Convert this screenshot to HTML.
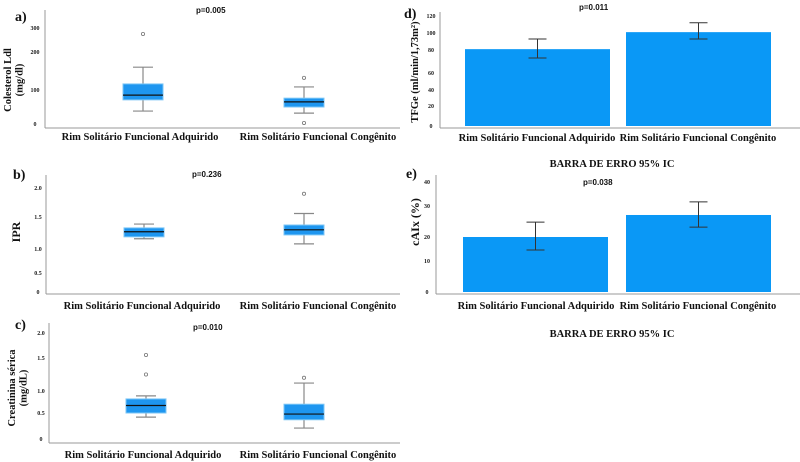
<!DOCTYPE html>
<html><head><meta charset="utf-8"><style>
body{margin:0;background:#fff;}
svg{display:block;font-family:"Liberation Serif",serif;}
.t{font-weight:bold;font-size:10.5px;fill:#111;}
.tk{font-weight:bold;font-size:6px;fill:#222;}
.p{font-family:"Liberation Sans",sans-serif;font-weight:bold;font-size:8px;fill:#111;}
.lt{font-weight:bold;font-size:14px;fill:#111;}
.yt{font-weight:bold;fill:#111;}
</style></head><body>
<svg id="root" width="800" height="462" viewBox="0 0 800 462"></svg>
<script>
const boxCategories=["Rim Solitário Funcional Adquirido","Rim Solitário Funcional Congênito"];
// panel a
const aTicks=[0,100,200,300];
const aBoxMin=[38,32],aBoxQ1=[71,50],aBoxMed=[85,65],aBoxQ3=[116,76],aBoxMax=[160,108];
const aOutliers=[[275],[132,3]];
// panel b
const bTicks=[0,0.5,1.0,1.5,2.0];
const bBoxMin=[1.16,1.08],bBoxQ1=[1.19,1.22],bBoxMed=[1.27,1.30],bBoxQ3=[1.33,1.375],bBoxMax=[1.39,1.56];
const bOutliers=[[],[1.9]];
// panel c
const cTicks=[0,0.5,1.0,1.5,2.0];
const cBoxMin=[0.42,0.21],cBoxQ1=[0.5,0.37],cBoxMed=[0.67,0.48],cBoxQ3=[0.82,0.70],cBoxMax=[0.89,1.12];
const cOutliers=[[1.56,1.25],[1.20]];
// panel d
const dTicks=[0,20,40,60,80,100,120];
const dMeans=[81,101],dLow=[73,93],dHigh=[93,112];
// panel e
const eTicks=[0,10,20,30,40];
const eMeans=[20,27.1],eLow=[14.6,23.2],eHigh=[24.8,31.7];

const NS="http://www.w3.org/2000/svg";
const root=document.getElementById('root');
function mk(tag,attrs,parent,text){const e=document.createElementNS(NS,tag);for(const k in attrs)e.setAttribute(k,attrs[k]);if(text!==undefined)e.textContent=text;(parent||root).appendChild(e);return e;}
function scale(ticks,pos){return v=>{for(let i=0;i<ticks.length-1;i++){if(v<=ticks[i+1]||i===ticks.length-2){const t=(v-ticks[i])/(ticks[i+1]-ticks[i]);return pos[i]+t*(pos[i+1]-pos[i]);}}};}

function axis(g,ticks,pos,ax,top,bottom,right,tickX){
  const ya=mk('line',{x1:ax,y1:top,x2:ax,y2:bottom,stroke:'#999','stroke-width':1},g);
  
  const xa=mk('line',{x1:ax,y1:bottom,x2:right,y2:bottom,stroke:'#999','stroke-width':1},g);
  
  const y=scale(ticks,pos);
  const dec=ticks[ticks.length-1]<=2;
  ticks.forEach(t=>{const tx=mk('text',{x:tickX,y:y(t)+2,'text-anchor':'middle',class:'tk'},g,(dec&&t!==0)?t.toFixed(1):String(t));
    });
  return y;
}
function xlabels(g,xs,ly){boxCategories.forEach((c,i)=>{const t=mk('text',{x:xs[i],y:ly,'text-anchor':'middle',class:'t'},g,c);
  });}
function label(g,txt,x,y,cls,name){const t=mk('text',{x:x,y:y,class:cls},g,txt);return t;}
function ytitle(g,lines,x,y,size){const t=mk('text',{transform:`translate(${x},${y}) rotate(-90)`,'text-anchor':'middle',class:'yt','font-size':size},g);
  
  lines.forEach((l,i)=>{mk('tspan',{x:0,dy:i?size+1:0},t,l);});}

function boxPanel(name,ticks,pos,ax,top,bottom,right,tickX,boxX,w,mins,q1,med,q3,maxs,outs){
  const g=mk('g',{});
  const y=axis(g,ticks,pos,ax,top,bottom,right,tickX);
  boxX.forEach((bx,i)=>{const cx=bx+w/2;
    const wg=mk('g',{},g);
    mk('line',{x1:cx,y1:y(maxs[i]),x2:cx,y2:y(mins[i]),stroke:'#888','stroke-width':1.2},wg);
    mk('line',{x1:cx-10,y1:y(maxs[i]),x2:cx+10,y2:y(maxs[i]),stroke:'#888','stroke-width':1.2},wg);
    mk('line',{x1:cx-10,y1:y(mins[i]),x2:cx+10,y2:y(mins[i]),stroke:'#888','stroke-width':1.2},wg);
    mk('rect',{x:bx,y:y(q3[i]),width:w,height:y(q1[i])-y(q3[i]),fill:'#1e96f0',stroke:'#7cc6f6','stroke-width':1},wg);
    mk('line',{x1:bx,y1:y(med[i]),x2:bx+w,y2:y(med[i]),stroke:'#111','stroke-width':1.2},wg);
    outs[i].forEach(o=>{const c=mk('circle',{cx:cx,cy:y(o),r:1.6,fill:'#fff',stroke:'#777','stroke-width':0.8},wg);
      });
  });
  return g;
}
function barPanel(name,ticks,pos,ax,top,bottom,right,tickX,barX,w,means,lo,hi){
  const g=mk('g',{});
  const y=axis(g,ticks,pos,ax,top,bottom,right,tickX);
  barX.forEach((bx,i)=>{const cx=bx+w/2;
    const r=mk('rect',{x:bx,y:y(means[i]),width:w,height:y(0)-y(means[i]),fill:'#0a98f6'},g);
    
    const eg=mk('g',{stroke:'#333','stroke-width':1},g);
    mk('line',{x1:cx,y1:y(hi[i]),x2:cx,y2:y(lo[i])},eg);
    mk('line',{x1:cx-9,y1:y(hi[i]),x2:cx+9,y2:y(hi[i])},eg);
    mk('line',{x1:cx-9,y1:y(lo[i]),x2:cx+9,y2:y(lo[i])},eg);
  });
  return g;
}

let g;
g=boxPanel('panel-a-ldl',aTicks,[124,90,52,28],45,10,128,400,35,[123,284],40,aBoxMin,aBoxQ1,aBoxMed,aBoxQ3,aBoxMax,aOutliers);
xlabels(g,[140,318],140);label(g,'a)',15,21,'lt','panel-label');label(g,'p=0.005',196,13,'p','p-value');
ytitle(g,['Colesterol Ldl','(mg/dl)'],11,80,10.5);

g=boxPanel('panel-b-ipr',bTicks,[292,273,249,217,188],46,175,294,400,38,[124,284],40,bBoxMin,bBoxQ1,bBoxMed,bBoxQ3,bBoxMax,bOutliers);
xlabels(g,[142,318],309);label(g,'b)',13,179,'lt','panel-label');label(g,'p=0.236',192,177,'p','p-value');
ytitle(g,['IPR'],20,232,12);

g=boxPanel('panel-c-creatinina',cTicks,[439,413,391,358,333],49,323,443,400,41,[126,284],40,cBoxMin,cBoxQ1,cBoxMed,cBoxQ3,cBoxMax,cOutliers);
xlabels(g,[143,318],458);label(g,'c)',15,329,'lt','panel-label');label(g,'p=0.010',193,330,'p','p-value');
ytitle(g,['Creatinina sérica','(mg/dL)'],15,388,10.5);

g=barPanel('panel-d-tfge',dTicks,[126,106,90,73,50,33,16],440,12,128,800,431,[465,626],145,dMeans,dLow,dHigh);
xlabels(g,[537,698],141);label(g,'d)',404,18,'lt','panel-label');label(g,'p=0.011',579,10,'p','p-value');
label(g,'BARRA DE ERRO 95% IC',612,167,'t','error-bar-caption').setAttribute('text-anchor','middle');
ytitle(g,['TFGe (ml/min/1,73m²)'],418,72,10.5);

g=barPanel('panel-e-caix',eTicks,[292,261,237,206,182],436,175,294,800,427,[463,626],145,eMeans,eLow,eHigh);
xlabels(g,[536,698],309);label(g,'e)',406,178,'lt','panel-label');label(g,'p=0.038',583,185,'p','p-value');
label(g,'BARRA DE ERRO 95% IC',612,337,'t','error-bar-caption').setAttribute('text-anchor','middle');
ytitle(g,['cAIx (%)'],419,222,12);
</script>
</body></html>
